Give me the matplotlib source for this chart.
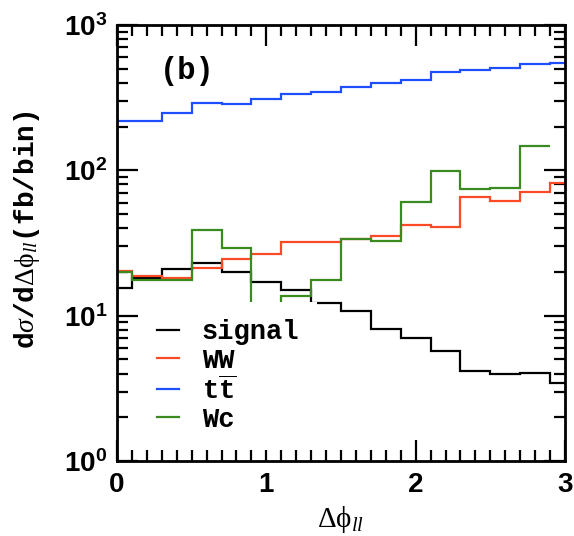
import numpy as np
import matplotlib
matplotlib.use("Agg")
import matplotlib.pyplot as plt
from matplotlib.ticker import FixedLocator, FixedFormatter, LogLocator, MultipleLocator, NullFormatter

plt.rcParams['mathtext.fontset'] = 'custom'
plt.rcParams['mathtext.rm'] = 'Liberation Serif'
plt.rcParams['mathtext.it'] = 'Liberation Serif:italic'
plt.rcParams['mathtext.bf'] = 'Liberation Sans:bold'
plt.rcParams['mathtext.fallback'] = 'stix'

# bin edges in delta phi_ll
edges = [0.0, 0.1, 0.3, 0.5, 0.7, 0.9, 1.1, 1.3, 1.5, 1.7, 1.9, 2.1, 2.3, 2.5, 2.7, 2.9, 3.0]

signal = [15.4, 18.1, 20.9, 22.9, 19.9, 17.1, 15.0, 12.3, 10.8, 8.05, 7.06, 5.72, 4.16, 3.95, 4.01, 3.46]
ww = [20.3, 18.6, 18.1, 21.2, 24.5, 26.4, 32.0, 32.3, 33.9, 35.4, 41.9, 40.8, 65.3, 61.5, 71.3, 81.5]
tt = [220, 220, 249, 290, 286, 308, 336, 348, 373, 397, 419, 473, 488, 509, 537, 551]
wc = [19.9, 17.6, 17.6, 38.9, 29.1, 11.0, 13.7, 17.6, 33.6, 32.7, 60.9, 99.5, 74.5, 75.3, 146, np.nan]

labels = ['signal', 'WW', r'$\mathregular{t\overline{t}}$', 'Wc']
colors = ['black', '#fa4a26', '#1d4fff', '#3a8a20']

fig = plt.figure(figsize=(5.74, 5.36), dpi=100)
ax = fig.add_axes([0.2038, 0.1399, 0.7805, 0.8135])

for vals, lab, col in zip([signal, ww, tt, wc], labels, colors):
    ax.stairs(vals, edges, color=col, lw=1.6, label=lab, baseline=None, zorder=2)

ax.set_yscale('log')
ax.set_xlim(0, 3)
ax.set_ylim(1, 1000)

ax.xaxis.set_major_locator(MultipleLocator(1))
ax.xaxis.set_minor_locator(MultipleLocator(0.1))
ax.yaxis.set_major_locator(FixedLocator([1, 10, 100, 1000]))
ax.yaxis.set_major_formatter(FixedFormatter([r'$\mathbf{10^{0}}$', r'$\mathbf{10^{1}}$',
                                             r'$\mathbf{10^{2}}$', r'$\mathbf{10^{3}}$']))
ax.yaxis.set_minor_locator(LogLocator(base=10, subs=np.arange(2, 10), numticks=20))
ax.yaxis.set_minor_formatter(NullFormatter())

ax.tick_params(which='both', direction='in', top=True, right=True, width=1.6)
ax.tick_params(which='major', length=15)
ax.tick_params(which='minor', length=8)
ax.tick_params(axis='x', pad=8)
ax.tick_params(axis='y', pad=7)
for t in ax.get_xticklabels():
    t.set_fontfamily('Liberation Sans')
    t.set_fontweight('bold')
    t.set_fontsize(20)
for t in ax.get_yticklabels():
    t.set_fontsize(20)
for s in ax.spines.values():
    s.set_linewidth(2)

ax.set_xlabel(r'$\Delta\mathrm{\phi}_{ll}$', fontsize=21, labelpad=4)
ax.set_ylabel(r'd$\sigma$/d$\Delta\mathrm{\phi}_{ll}$(fb/bin)', fontsize=20,
              fontfamily='Liberation Mono', fontweight='bold')
ax.yaxis.set_label_coords(-0.167, 0.53)

ax.text(0.095, 0.895, '(b)', transform=ax.transAxes, fontsize=22,
        fontfamily='Liberation Mono', fontweight='bold', va='center')

leg = ax.legend(loc='upper left', bbox_to_anchor=(0.05, 0.365), borderaxespad=0,
                prop={'family': 'Liberation Mono', 'weight': 'bold', 'size': 19.5},
                frameon=True, framealpha=1, facecolor='white', edgecolor='none',
                fancybox=False, handlelength=0.8, handletextpad=0.85,
                labelspacing=0.08, borderpad=0.65)
leg.set_zorder(5)

fig.savefig('out.png', dpi=100)
